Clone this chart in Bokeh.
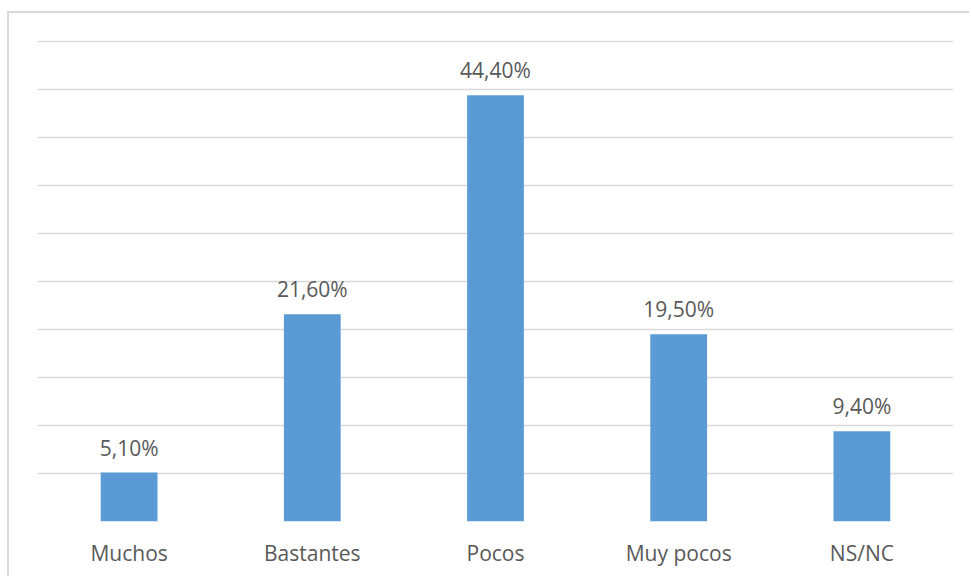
from bokeh.plotting import figure
from bokeh.models import Range1d, SingleIntervalTicker, ColumnDataSource
from bokeh.core.properties import value
from bokeh.embed import file_html
from bokeh.resources import INLINE

# Survey answers and their shares (%)
categories = ["Muchos", "Bastantes", "Pocos", "Muy pocos", "NS/NC"]
shares = [5.1, 21.6, 44.4, 19.5, 9.4]
share_labels = [f"{v:.2f}".replace(".", ",") + "%" for v in shares]

FONT = "Open Sans"
TEXT_GRAY = "#595959"
GRID_GRAY = "#d9d9d9"
BAR_BLUE = "#5b9bd5"

source = ColumnDataSource(dict(cat=categories, share=shares, label=share_labels))

p = figure(
    x_range=categories,
    y_range=Range1d(0, 50.104),
    width=962,
    height=565,
    output_backend="svg",
    toolbar_location=None,
    min_border_left=28,
    min_border_right=18,
    min_border_top=27,
    min_border_bottom=57,
    background_fill_color="white",
    border_fill_color="white",
    outline_line_color=None,
)

# Chart-area frame: light border on the left and top edges
p.styles = {
    "border-left": "2px solid #d9d9d9",
    "border-top": "2px solid #d9d9d9",
    "margin-left": "7px",
    "margin-top": "11px",
}

p.vbar(x="cat", top="share", width=0.31, source=source,
       fill_color=BAR_BLUE, line_color=None)

p.text(x="cat", y="share", text="label", source=source,
       text_font=value(FONT), text_font_size="21px", text_color=TEXT_GRAY,
       text_align="center", text_baseline="alphabetic", y_offset=-25)

# Horizontal gridlines every 5 points, no visible value axis
p.yaxis.visible = False
p.yaxis.ticker = SingleIntervalTicker(interval=5)
p.ygrid.ticker = SingleIntervalTicker(interval=5)
p.ygrid.grid_line_color = GRID_GRAY
p.ygrid.grid_line_width = 1.5
p.xgrid.grid_line_color = None

xa = p.xaxis[0]
xa.axis_line_color = None
xa.major_tick_line_color = None
xa.minor_tick_line_color = None
xa.major_label_text_font = FONT
xa.major_label_text_font_size = "21px"
xa.major_label_text_color = TEXT_GRAY
xa.major_label_standoff = 11

open("out.html", "w").write(file_html(p, INLINE))
